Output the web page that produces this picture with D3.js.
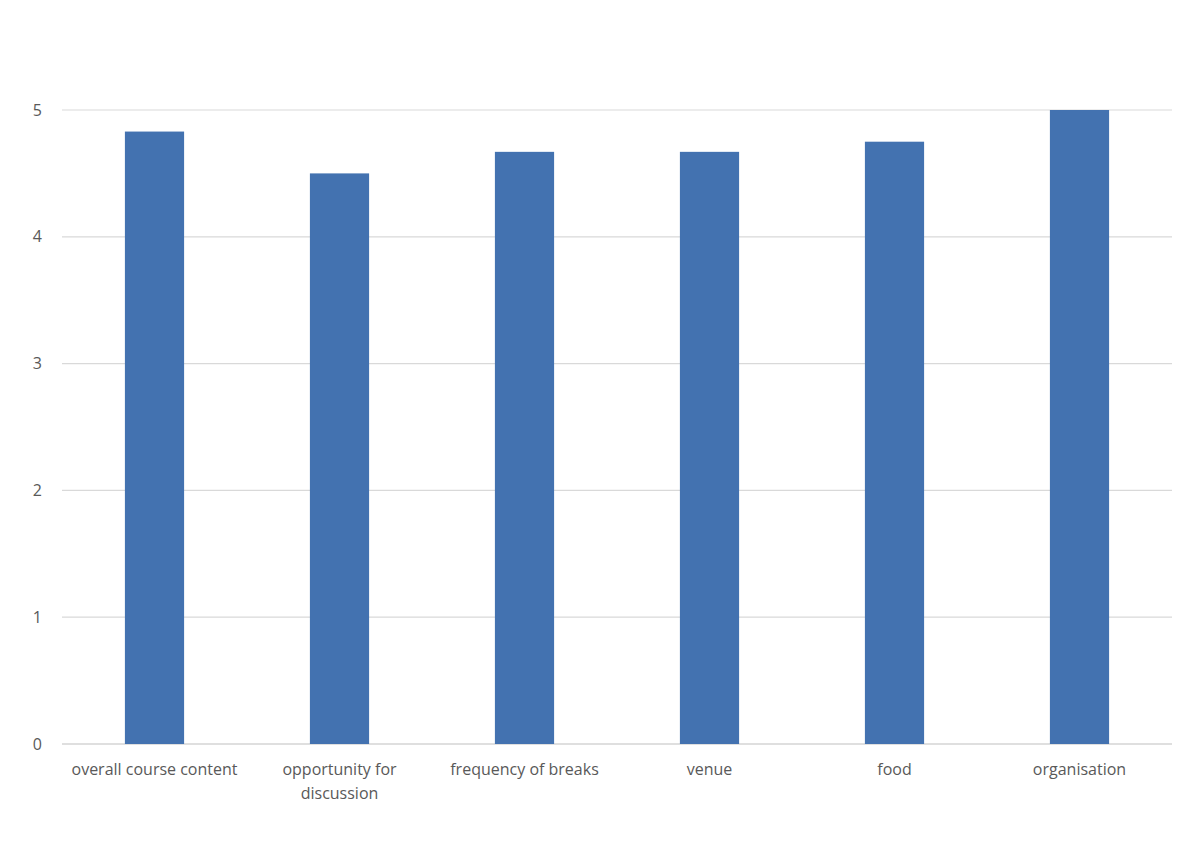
<!DOCTYPE html>
<html>
<head>
<meta charset="utf-8">
<script src="https://cdn.jsdelivr.net/npm/d3@7"></script>
<style>
body { margin: 0; background: #fff; }
text { font-family: "Open Sans", "Liberation Sans", sans-serif; }
</style>
</head>
<body>
<svg id="chart" width="1200" height="867"></svg>
<script>
// chart data
var categories = ["overall course content", "opportunity for discussion", "frequency of breaks", "venue", "food", "organisation"];
var labelLines = [["overall course content"], ["opportunity for", "discussion"], ["frequency of breaks"], ["venue"], ["food"], ["organisation"]];
var values = [4.83, 4.5, 4.67, 4.67, 4.75, 5.0];
var yTicks = [0, 1, 2, 3, 4, 5];

var svg = d3.select("#chart");
var margin = {left: 62, right: 28, top: 110, bottom: 123};
var width = 1200 - margin.left - margin.right;
var height = 867 - margin.top - margin.bottom;

var g = svg.append("g").attr("transform", "translate(" + margin.left + "," + margin.top + ")");

var x = d3.scaleBand().domain(categories).range([0, width]).paddingInner(0.68).paddingOuter(0.34);
var y = d3.scaleLinear().domain([0, 5]).range([height, 0]);

// gridlines
g.selectAll("line.grid")
  .data(yTicks)
  .enter().append("line")
  .attr("x1", 0).attr("x2", width)
  .attr("y1", function(d) { return y(d); })
  .attr("y2", function(d) { return y(d); })
  .attr("stroke", function(d) { return d === 0 ? "#bfbfbf" : "#d9d9d9"; })
  .attr("stroke-width", 1.2);

// y labels
g.selectAll("text.ytick")
  .data(yTicks)
  .enter().append("text")
  .attr("x", -20)
  .attr("y", function(d) { return y(d); })
  .attr("dy", "0.35em")
  .attr("text-anchor", "end")
  .attr("font-size", 16)
  .attr("fill", "#595959")
  .text(function(d) { return d; });

// bars
g.selectAll("rect.bar")
  .data(values)
  .enter().append("rect")
  .attr("x", function(d, i) { return x(categories[i]); })
  .attr("width", x.bandwidth())
  .attr("y", function(d) { return y(d); })
  .attr("height", function(d) { return height - y(d); })
  .attr("fill", "#4372b0");

// x labels
var xl = g.selectAll("text.xlab")
  .data(labelLines)
  .enter().append("text")
  .attr("text-anchor", "middle")
  .attr("font-size", 16)
  .attr("fill", "#595959")
  .attr("transform", function(d, i) {
    return "translate(" + (x(categories[i]) + x.bandwidth() / 2) + "," + (height + 31) + ")";
  });
xl.selectAll("tspan")
  .data(function(d) { return d; })
  .enter().append("tspan")
  .attr("x", 0)
  .attr("dy", function(d, i) { return i === 0 ? 0 : 24; })
  .text(function(d) { return d; });
</script>
</body>
</html>
